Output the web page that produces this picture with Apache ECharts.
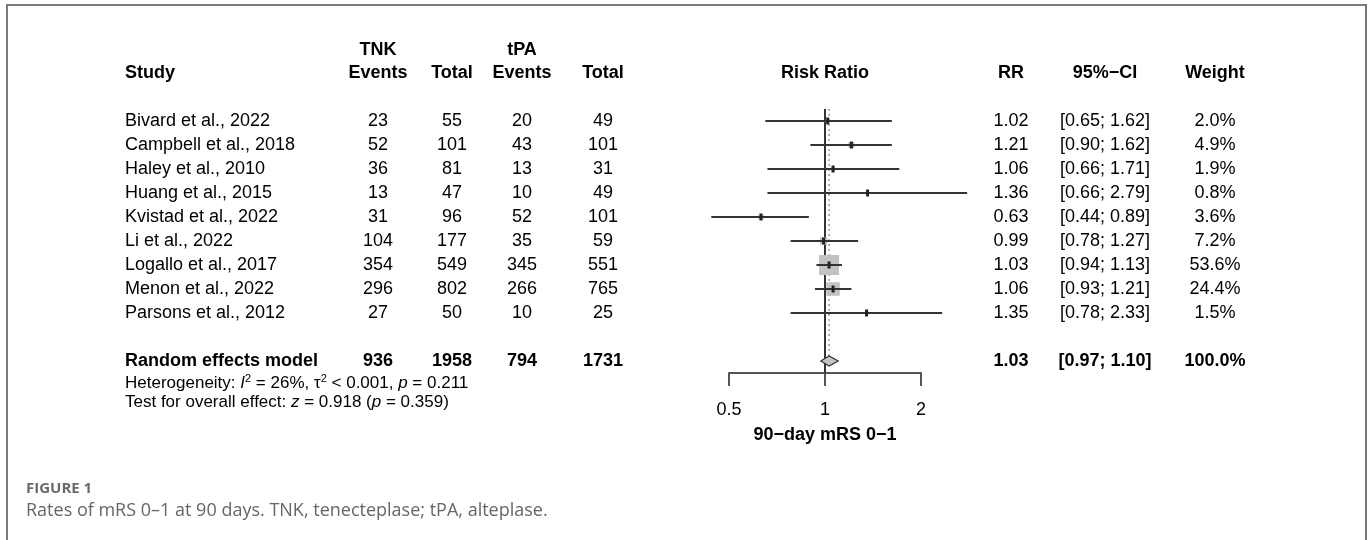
<!DOCTYPE html>
<html>
<head>
<meta charset="utf-8">
<script src="https://cdn.jsdelivr.net/npm/echarts@6/dist/echarts.min.js"></script>
<style>
  html, body { margin: 0; padding: 0; background: #fff; }
  #chart { width: 1370px; height: 540px; }
</style>
</head>
<body>
<div id="chart"></div>
<script>
// study rows
const studies = [
  'Bivard et al., 2022', 'Campbell et al., 2018', 'Haley et al., 2010',
  'Huang et al., 2015', 'Kvistad et al., 2022', 'Li et al., 2022',
  'Logallo et al., 2017', 'Menon et al., 2022', 'Parsons et al., 2012'
]
const tnkEvents = [23, 52, 36, 13, 31, 104, 354, 296, 27]
const tnkTotal = [55, 101, 81, 47, 96, 177, 549, 802, 50]
const tpaEvents = [20, 43, 13, 10, 52, 35, 345, 266, 10]
const tpaTotal = [49, 101, 31, 49, 101, 59, 551, 765, 25]
const riskRatio = [1.02, 1.21, 1.06, 1.36, 0.63, 0.99, 1.03, 1.06, 1.35]
const ciLower = [0.65, 0.90, 0.66, 0.66, 0.44, 0.78, 0.94, 0.93, 0.78]
const ciUpper = [1.62, 1.62, 1.71, 2.79, 0.89, 1.27, 1.13, 1.21, 2.33]
const weights = [2.0, 4.9, 1.9, 0.8, 3.6, 7.2, 53.6, 24.4, 1.5]

// pooled row
const pooledLabel = 'Random effects model'
const pooledCounts = [936, 1958, 794, 1731]
const pooledEstimate = [1.03, 0.97, 1.10]
const pooledWeight = 100.0

const xTicks = [0.5, 1, 2]

// layout
const FONT = '"Liberation Sans", Arial, sans-serif'
const ROW0 = 121
const ROW_H = 24
const POOLED_ROW = 10
const colStudy = 125
const colX = [378, 452, 522, 603]
const colRR = 1011
const colCI = 1105
const colW = 1215
const HEAD_Y = 73

const chart = echarts.init(document.getElementById('chart'))

const rowY = i => ROW0 + i * ROW_H
const maxW = Math.max(...weights)

const txt = (x, y, s, opt = {}) => ({
  type: 'text',
  x, y,
  style: {
    text: s,
    fill: opt.color || '#000',
    font: (opt.bold ? 'bold ' : '') + (opt.size || 18) + 'px ' + (opt.family || FONT),
    align: opt.align || 'center',
    verticalAlign: 'middle',
    rich: opt.rich
  }
})

const graphics = []
// frame
graphics.push({
  type: 'polyline',
  shape: { points: [[7, 545], [7, 5], [1366, 5], [1366, 545]] },
  style: { stroke: '#7a7a7a', lineWidth: 2, fill: null }
})
// headers
graphics.push(txt(colStudy, HEAD_Y, 'Study', { bold: true, align: 'left' }))
graphics.push(txt(colX[0], 50, 'TNK', { bold: true }))
graphics.push(txt(colX[0], HEAD_Y, 'Events', { bold: true }))
graphics.push(txt(colX[1], HEAD_Y, 'Total', { bold: true }))
graphics.push(txt(colX[2], 50, 'tPA', { bold: true }))
graphics.push(txt(colX[2], HEAD_Y, 'Events', { bold: true }))
graphics.push(txt(colX[3], HEAD_Y, 'Total', { bold: true }))
graphics.push(txt(825, HEAD_Y, 'Risk Ratio', { bold: true }))
graphics.push(txt(colRR, HEAD_Y, 'RR', { bold: true }))
graphics.push(txt(colCI, HEAD_Y, '95%\u2212CI', { bold: true }))
graphics.push(txt(colW, HEAD_Y, 'Weight', { bold: true }))

// study rows
studies.forEach((s, i) => {
  const y = rowY(i)
  graphics.push(txt(colStudy, y, s, { align: 'left' }))
  ;[tnkEvents[i], tnkTotal[i], tpaEvents[i], tpaTotal[i]].forEach((v, k) => {
    graphics.push(txt(colX[k], y, String(v)))
  })
  graphics.push(txt(colRR, y, riskRatio[i].toFixed(2)))
  graphics.push(txt(colCI, y, '[' + ciLower[i].toFixed(2) + '; ' + ciUpper[i].toFixed(2) + ']'))
  graphics.push(txt(colW, y, weights[i].toFixed(1) + '%'))
})

// pooled row
const py = rowY(POOLED_ROW)
graphics.push(txt(colStudy, py, pooledLabel, { bold: true, align: 'left' }))
pooledCounts.forEach((v, k) => graphics.push(txt(colX[k], py, String(v), { bold: true })))
graphics.push(txt(colRR, py, pooledEstimate[0].toFixed(2), { bold: true }))
graphics.push(txt(colCI, py, '[' + pooledEstimate[1].toFixed(2) + '; ' + pooledEstimate[2].toFixed(2) + ']', { bold: true }))
graphics.push(txt(colW, py, pooledWeight.toFixed(1) + '%', { bold: true }))

// heterogeneity text
const rich = {
  n: { fontSize: 17, fontFamily: FONT, color: '#000' },
  i: { fontSize: 17, fontFamily: FONT, fontStyle: 'italic', color: '#000' },
  sup: { fontSize: 11, fontFamily: FONT, color: '#000', verticalAlign: 'top', lineHeight: 20 }
}
graphics.push(txt(colStudy, 383,
  '{n|Heterogeneity: }{i|I}{sup|2}{n| = 26%, \u03c4}{sup|2}{n| < 0.001, }{i|p}{n| = 0.211}',
  { align: 'left', size: 17, rich }))
graphics.push(txt(colStudy, 402,
  '{n|Test for overall effect: }{i|z}{n| = 0.918 (}{i|p}{n| = 0.359)}',
  { align: 'left', size: 17, rich }))

// caption
graphics.push(txt(26, 489, 'FIGURE 1', { align: 'left', size: 15, color: '#6a6a6a', family: '"Open Sans", sans-serif', bold: true }))
graphics.push(txt(26, 511, 'Rates of mRS 0\u20131 at 90 days. TNK, tenecteplase; tPA, alteplase.',
  { align: 'left', size: 18, color: '#666', family: '"Open Sans", sans-serif' }))

const studyData = studies.map((s, i) => [i, riskRatio[i], ciLower[i], ciUpper[i], weights[i]])

const option = {
  backgroundColor: '#fff',
  animation: false,
  grid: {
    left: 729,
    width: 192,
    top: ROW0 - ROW_H / 2,
    height: ROW_H * (POOLED_ROW + 1)
  },
  xAxis: {
    type: 'log',
    logBase: 2,
    min: xTicks[0],
    max: xTicks[xTicks.length - 1],
    axisLine: { show: true, onZero: false, lineStyle: { color: '#555', width: 2 } },
    axisTick: { show: true, length: 13, lineStyle: { color: '#555', width: 2 } },
    axisLabel: {
      margin: 28,
      fontSize: 18,
      color: '#000',
      fontFamily: FONT,
      formatter: v => {
        const t = xTicks.find(k => Math.abs(k - v) < 1e-6)
        return t !== undefined ? String(t) : ''
      }
    },
    splitLine: { show: false },
    name: '90\u2212day mRS 0\u22121',
    nameLocation: 'middle',
    nameGap: 53,
    nameTextStyle: { fontWeight: 'bold', fontSize: 18, color: '#000', fontFamily: FONT }
  },
  yAxis: {
    type: 'value',
    inverse: true,
    min: -0.5,
    max: POOLED_ROW + 0.5,
    show: false
  },
  series: [
    {
      // line of no effect
      type: 'line',
      data: [[1, -0.5], [1, POOLED_ROW + 0.5]],
      symbol: 'none',
      lineStyle: { color: '#333', width: 2 },
      z: 1
    },
    {
      // pooled estimate reference
      type: 'line',
      data: [[pooledEstimate[0], -0.5], [pooledEstimate[0], POOLED_ROW - 0.21]],
      symbol: 'none',
      lineStyle: { color: '#999', width: 1.5, type: [2, 3] },
      z: 1
    },
    {
      type: 'custom',
      clip: false,
      encode: { x: 1, y: 0 },
      data: studyData,
      renderItem: (params, api) => {
        const row = api.value(0)
        const pe = api.coord([api.value(1), row])
        const pl = api.coord([api.value(2), row])
        const ph = api.coord([api.value(3), row])
        const s = 20 * Math.sqrt(api.value(4) / maxW)
        return {
          type: 'group',
          children: [
            { type: 'rect', shape: { x: pe[0] - s / 2, y: pe[1] - s / 2, width: s, height: s }, style: { fill: '#c2c2c2' } },
            { type: 'line', shape: { x1: pl[0], y1: pl[1], x2: ph[0], y2: ph[1] }, style: { stroke: '#333', lineWidth: 2 } },
            { type: 'rect', shape: { x: pe[0] - 1.5, y: pe[1] - 3.5, width: 3, height: 7 }, style: { fill: '#222' } }
          ]
        }
      },
      z: 3
    },
    {
      type: 'custom',
      clip: false,
      encode: { x: 0, y: 3 },
      data: [[pooledEstimate[0], pooledEstimate[1], pooledEstimate[2], POOLED_ROW]],
      renderItem: (params, api) => {
        const row = api.value(3)
        const c = api.coord([api.value(0), row])
        const l = api.coord([api.value(1), row])
        const r = api.coord([api.value(2), row])
        return {
          type: 'polygon',
          shape: { points: [[l[0], l[1]], [c[0], c[1] - 5], [r[0], r[1]], [c[0], c[1] + 5]] },
          style: { fill: '#c4c4c4', stroke: '#333', lineWidth: 1.2 }
        }
      },
      z: 3
    }
  ],
  graphic: graphics
}

chart.setOption(option)
</script>
</body>
</html>
